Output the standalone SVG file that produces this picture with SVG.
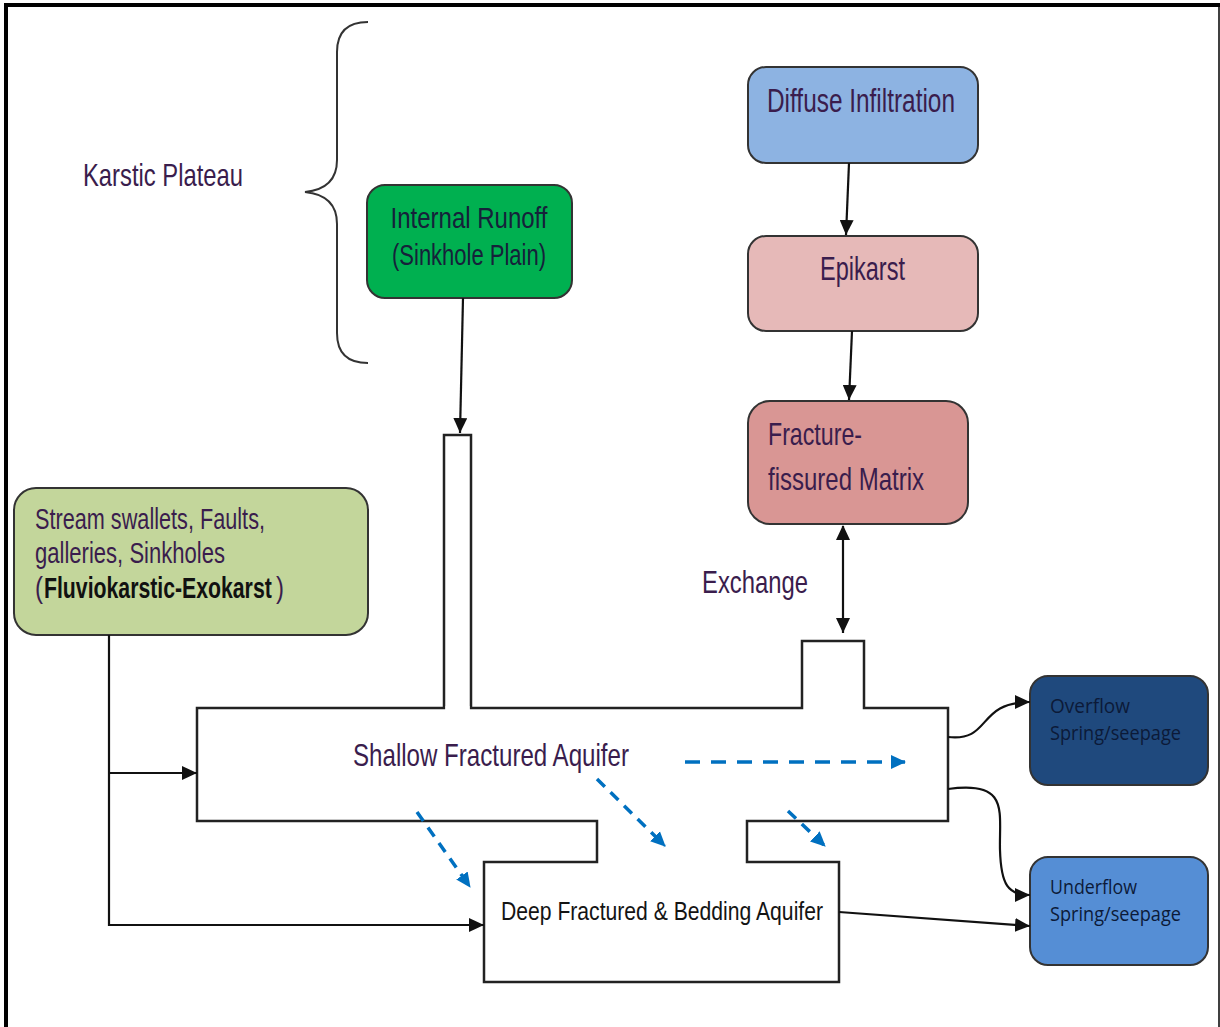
<svg xmlns="http://www.w3.org/2000/svg" width="1220" height="1027" viewBox="0 0 1220 1027">
<style>
  .t { font-family: "Liberation Sans", Arial, sans-serif; font-size: 24px; fill: #3a1d4d; }
  .tb { font-family: "Liberation Sans", Arial, sans-serif; font-size: 21px; fill: #141414; }
  .tc { font-family: "Open Sans", "Noto Sans", sans-serif; font-size: 18px; fill: #0c1a38; }
  .box { stroke: #333; stroke-width: 2; }
  .line { fill: none; stroke: #111; stroke-width: 2.2; }
  .dash { fill: none; stroke: #0070c0; stroke-width: 3.5; }
  .outline { fill: #fff; stroke: #222; stroke-width: 2.5; }
</style>
<defs>
  <marker id="ah" markerUnits="userSpaceOnUse" markerWidth="16" markerHeight="14" refX="15" refY="7" orient="auto">
    <path d="M0,0 L15,7 L0,14 Z" fill="#111"/>
  </marker>
  <marker id="ahs" markerUnits="userSpaceOnUse" markerWidth="16" markerHeight="14" refX="1" refY="7" orient="auto">
    <path d="M15,0 L0,7 L15,14 Z" fill="#111"/>
  </marker>
  <marker id="bh" markerUnits="userSpaceOnUse" markerWidth="16" markerHeight="16" refX="14" refY="8" orient="auto">
    <path d="M0,1 L15,8 L0,15 Z" fill="#0070c0"/>
  </marker>
</defs>
<rect width="1220" height="1027" fill="#fff"/>
<g id="frame">
  <line x1="4" y1="5" x2="1220" y2="5" stroke="#000" stroke-width="4"/>
  <line x1="6" y1="3" x2="6" y2="1027" stroke="#000" stroke-width="4"/>
  <line x1="1219" y1="3" x2="1219" y2="1027" stroke="#000" stroke-width="1.5"/>
</g>
<g id="karstic-plateau">
  <path d="M368,22 C348,22 337,32 337,52 V160 C337,180 325,190 305,192 C325,194 337,204 337,224 V333 C337,353 348,363 368,363" fill="none" stroke="#333" stroke-width="2"/>
  <text class="t" transform="translate(83,186) scale(1,1.32)" textLength="160" lengthAdjust="spacingAndGlyphs">Karstic Plateau</text>
</g>
<g id="aquifer-outline">
  <path class="outline" d="M197,708 H444 V435 H471 V708 H802 V641 H864 V708 H948 V821 H747 V862 H839 V982 H484 V862 H597 V821 H197 Z"/>
  <line x1="445.5" y1="708" x2="469.5" y2="708" stroke="#fff" stroke-width="4"/>
</g>
<g id="shallow-aquifer">
  <text class="t" transform="translate(353,766) scale(1,1.3)" textLength="276" lengthAdjust="spacingAndGlyphs">Shallow Fractured Aquifer</text>
</g>
<g id="deep-aquifer">
  <text class="tb" transform="translate(501,920) scale(1,1.2)" textLength="322" lengthAdjust="spacingAndGlyphs">Deep Fractured &amp; Bedding Aquifer</text>
</g>
<g id="internal-runoff">
  <rect class="box" x="367" y="185" width="205" height="113" rx="18" fill="#00b050"/>
  <text class="t" style="fill:#16213a" text-anchor="middle" transform="translate(469,228) scale(1,1.25)" textLength="157" lengthAdjust="spacingAndGlyphs">Internal  Runoff</text>
  <text class="t" style="fill:#16213a" text-anchor="middle" transform="translate(469,265) scale(1,1.25)" textLength="154" lengthAdjust="spacingAndGlyphs">(Sinkhole Plain)</text>
</g>
<g id="diffuse-infiltration">
  <rect class="box" x="748" y="67" width="230" height="96" rx="18" fill="#8db3e2"/>
  <text class="t" transform="translate(767,112) scale(1,1.35)" textLength="188" lengthAdjust="spacingAndGlyphs">Diffuse Infiltration</text>
</g>
<g id="epikarst">
  <rect class="box" x="748" y="236" width="230" height="95" rx="18" fill="#e6b9b8"/>
  <text class="t" transform="translate(820,280) scale(1,1.35)" textLength="85" lengthAdjust="spacingAndGlyphs">Epikarst</text>
</g>
<g id="fracture-matrix">
  <rect class="box" x="748" y="401" width="220" height="123" rx="22" fill="#d99694"/>
  <text class="t" transform="translate(768,445) scale(1,1.3)" textLength="94" lengthAdjust="spacingAndGlyphs">Fracture-</text>
  <text class="t" transform="translate(768,490) scale(1,1.3)" textLength="156" lengthAdjust="spacingAndGlyphs">fissured Matrix</text>
</g>
<g id="stream-swallets">
  <rect class="box" x="14" y="488" width="354" height="147" rx="22" fill="#c3d69b"/>
  <text class="t" transform="translate(35,529) scale(1,1.2)" textLength="230" lengthAdjust="spacingAndGlyphs">Stream swallets, Faults,</text>
  <text class="t" transform="translate(35,563) scale(1,1.2)" textLength="190" lengthAdjust="spacingAndGlyphs">galleries, Sinkholes</text>
  <text class="t" transform="translate(35,598) scale(1,1.2)">(</text>
  <text class="t" transform="translate(44,598) scale(0.885,1.2)" font-weight="bold" style="fill:#111">Fluviokarstic-Exokarst</text>
  <text class="t" transform="translate(276,598) scale(1,1.2)">)</text>
</g>
<g id="overflow">
  <rect class="box" x="1030" y="676" width="178" height="109" rx="18" fill="#1f497d"/>
  <text class="tc" transform="translate(1050,713) scale(1,1.15)" textLength="80" lengthAdjust="spacingAndGlyphs">Overflow</text>
  <text class="tc" transform="translate(1050,740) scale(1,1.15)" textLength="131" lengthAdjust="spacingAndGlyphs">Spring/seepage</text>
</g>
<g id="underflow">
  <rect class="box" x="1030" y="857" width="178" height="108" rx="18" fill="#558ed5"/>
  <text class="tc" transform="translate(1050,894) scale(1,1.15)" textLength="87" lengthAdjust="spacingAndGlyphs">Underflow</text>
  <text class="tc" transform="translate(1050,921) scale(1,1.15)" textLength="131" lengthAdjust="spacingAndGlyphs">Spring/seepage</text>
</g>
<g id="exchange-label">
  <text class="t" transform="translate(702,593) scale(1,1.3)" textLength="106" lengthAdjust="spacingAndGlyphs">Exchange</text>
</g>
<g id="connectors">
  <line class="line" x1="463" y1="298" x2="460" y2="433" marker-end="url(#ah)"/>
  <line class="line" x1="849" y1="163" x2="846" y2="235" marker-end="url(#ah)"/>
  <line class="line" x1="852" y1="331" x2="849" y2="400" marker-end="url(#ah)"/>
  <line class="line" x1="843" y1="526" x2="843" y2="633" marker-start="url(#ahs)" marker-end="url(#ah)"/>
  <path class="line" d="M109,635 V925 H484" marker-end="url(#ah)"/>
  <line class="line" x1="109" y1="773" x2="197" y2="773" marker-end="url(#ah)"/>
  <path class="line" d="M948,737 C992,742 976,702 1030,702" marker-end="url(#ah)"/>
  <path class="line" d="M948,789 C1010,780 999,812 1000,850 C1001,885 1008,895 1030,895" marker-end="url(#ah)"/>
  <line class="line" x1="839" y1="912" x2="1030" y2="926" marker-end="url(#ah)"/>
  <line class="dash" x1="685" y1="762" x2="905" y2="762" stroke-dasharray="15 11" marker-end="url(#bh)"/>
  <line class="dash" x1="417" y1="812" x2="470" y2="887" stroke-width="3" stroke-dasharray="11 8" marker-end="url(#bh)"/>
  <line class="dash" x1="597" y1="779" x2="665" y2="846" stroke-width="3" stroke-dasharray="11 8" marker-end="url(#bh)"/>
  <line class="dash" x1="788" y1="811" x2="825" y2="846" stroke-width="3" stroke-dasharray="11 8" marker-end="url(#bh)"/>
</g>
</svg>
